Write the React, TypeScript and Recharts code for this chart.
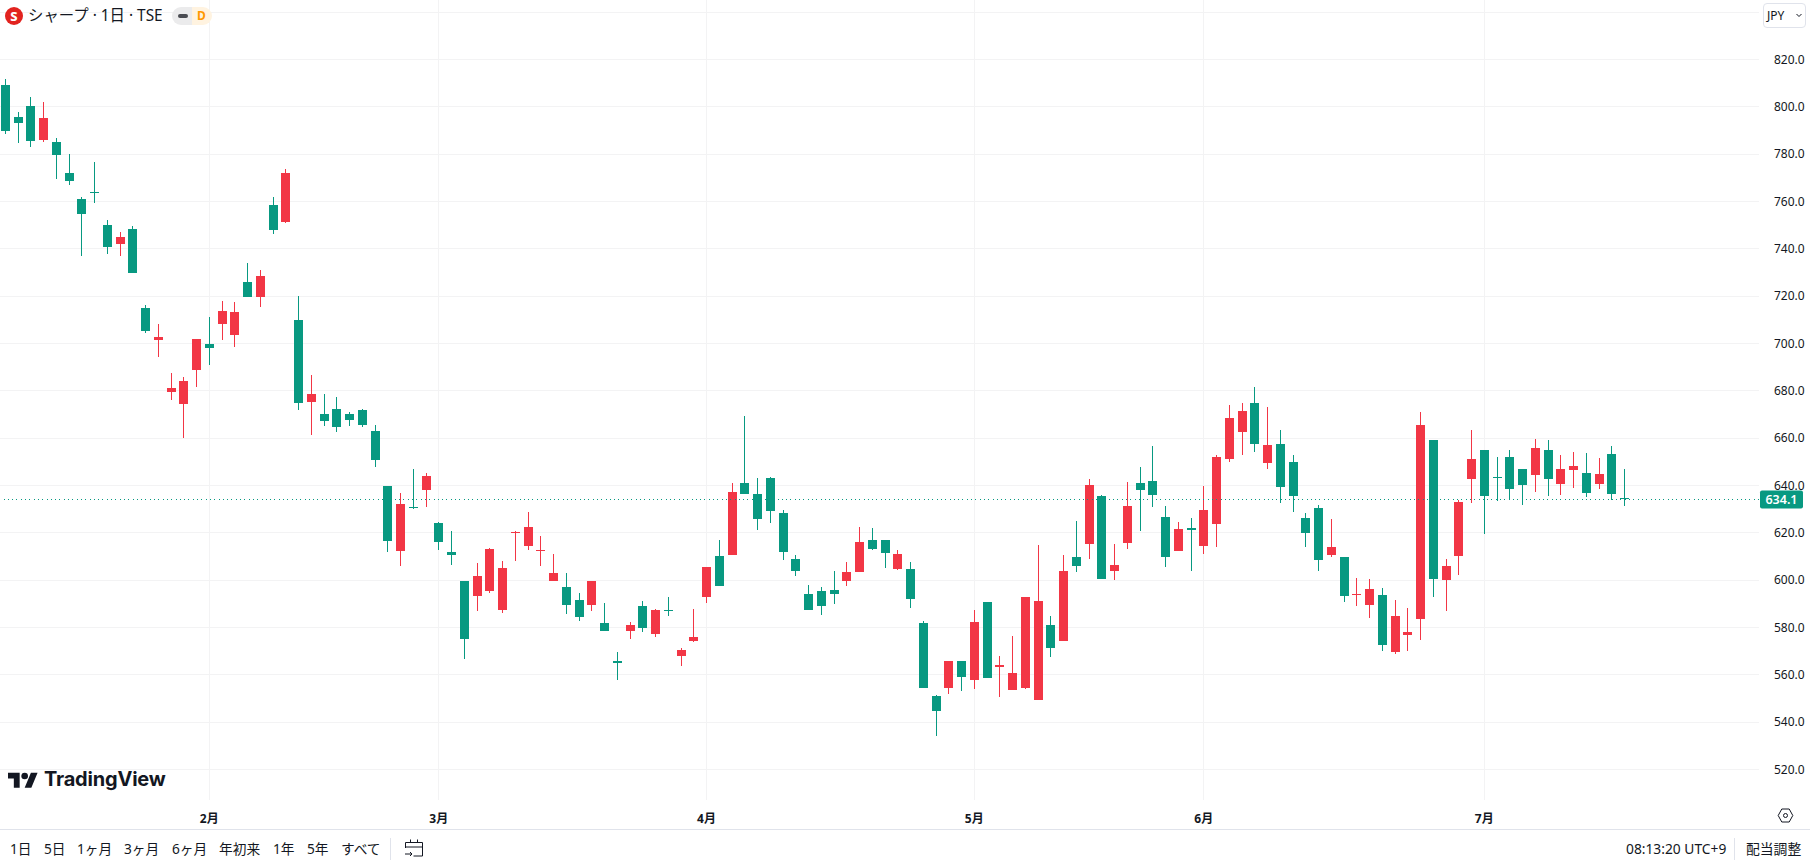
import { Bar, CartesianGrid, ComposedChart, ReferenceLine, XAxis, YAxis } from "recharts";

const opens = [
  809.2, 795.7, 800.4, 786, 785.1, 772, 761.1, 764.2, 750.1, 742, 748.4, 715, 701.5, 679.5, 674.4, 688.8,
  699.8, 708.2, 703.6, 726, 719.7, 758.5, 751.3, 710, 675.3, 670.2, 672.3, 670.2, 671.9, 663, 639.8, 612.3,
  631, 638.1, 624.2, 611.9, 599.6, 593.3, 595.4, 587.4, 619.9, 614.4, 612.3, 599.6, 597.1, 591.6, 589.5, 581.9,
  565.8, 578.5, 589.1, 577.3, 587.4, 567.9, 574.3, 592.9, 610.2, 610.6, 641, 636.4, 643.2, 628.4, 608.9, 594.2,
  595.4, 595.8, 599.6, 603.5, 617, 617, 604.7, 604.7, 581.9, 551, 554.4, 565.8, 557.8, 590.8, 563.3, 553.6,
  554.4, 549.4, 581, 574.3, 609.8, 615.3, 635.6, 603.9, 615.7, 641, 641.9, 626.7, 612.3, 622, 614.4, 623.7,
  651.2, 662.6, 674.9, 649.5, 657.5, 649.9, 626.3, 630.5, 610.6, 609.8, 593.7, 589.5, 593.7, 569.6, 576.8, 583.6,
  659.2, 600.1, 610.2, 642.7, 655, 643.6, 652, 647, 644.4, 655, 640.6, 646.5, 645.3, 640.6, 653.3, 634.7,
];
const highs = [
  811.6, 797.8, 804, 801.9, 786.8, 780.1, 761.9, 776.7, 752.2, 747.1, 749.6, 716.3, 708.2, 687.5, 685.8, 701.9,
  711.2, 718, 717.5, 734, 731, 761.9, 773.7, 720.1, 686.7, 678.7, 677.4, 671.1, 672.3, 665.6, 639.8, 636.8,
  647, 645.3, 624.6, 620.8, 599.6, 607.3, 613.6, 608.1, 620.8, 628.8, 618.7, 611, 603, 594.6, 599.6, 590.4,
  569.7, 582.3, 591.2, 587.8, 592.9, 571.3, 587.8, 605.6, 617, 641, 669.4, 643.2, 643.6, 629.6, 610.6, 598,
  597.1, 603.9, 607.7, 622.5, 622, 617, 612.8, 607.7, 582.7, 551.5, 565.8, 565.8, 587.4, 590.8, 567.9, 576.4,
  592.9, 614.9, 584.9, 610.6, 625, 642.7, 636, 615.3, 641.5, 647.8, 656.7, 631.3, 624.6, 626.3, 639.8, 652.9,
  674, 674.9, 681.6, 673.2, 663.4, 652.9, 628.4, 631.8, 625.8, 609.8, 600.9, 600.5, 596.7, 591.6, 588.2, 671,
  659.2, 608.9, 633.9, 663.4, 655, 652, 655, 647, 659.6, 659.2, 652.9, 654.2, 653.7, 651.6, 656.7, 647,
];
const lows = [
  788.5, 784.9, 783, 784.9, 769.5, 767, 737, 759.4, 737.8, 737, 729.8, 704.4, 694.3, 676.1, 660, 681.6,
  691, 701.5, 698.5, 719.7, 715.4, 746.3, 750.9, 672, 661.3, 665.2, 662.6, 665.2, 664.7, 647.8, 611.9, 606,
  630, 630.9, 612.8, 606.4, 566.7, 587, 594.6, 586.1, 608.1, 612.8, 606, 599.6, 585.7, 582.7, 587, 578.5,
  557.8, 575.1, 578.1, 576, 584.9, 563.7, 573.9, 590.4, 597.5, 610.6, 636.4, 621.2, 624.2, 608.5, 601.8, 587.4,
  585.3, 589.9, 597.5, 603.5, 612.8, 605.1, 604.3, 588.2, 554.4, 534.2, 551.9, 553.2, 554, 558.7, 550.6, 553.6,
  554, 549.4, 567.5, 574.3, 603.5, 608.9, 600.5, 600.1, 613.2, 620.8, 630.9, 605.6, 612.3, 603.9, 611, 614,
  650, 652.9, 654.2, 647, 632.6, 628.8, 614, 603.9, 609.8, 590.8, 589.1, 584, 570.1, 568.8, 570.1, 574.7,
  592.9, 587, 602.2, 632.6, 619.5, 633.4, 634.3, 631.8, 637.3, 635.6, 636, 639, 635.1, 638.5, 633.9, 631.3,
];
const closes = [
  789.8, 793.2, 785.6, 795.3, 779.6, 768.7, 754.7, 763.8, 740.8, 745, 729.8, 705.3, 702.7, 681.2, 684.2, 701.9,
  698.1, 713.7, 713.3, 719.7, 728.5, 748, 772, 674.9, 678.7, 667.3, 664.7, 667.7, 665.5, 650.8, 616.6, 632.2,
  630.5, 644, 616.1, 610.6, 575.1, 601.8, 613.2, 605.1, 620.4, 622.5, 612.8, 603, 589.5, 584.4, 599.6, 578.5,
  565, 581, 579.8, 587.4, 587, 570.5, 576, 605.6, 597.5, 637.3, 636.4, 625.8, 629.2, 611.9, 603.9, 587.4,
  589.1, 594.2, 603.5, 616.1, 613.2, 611.5, 611, 592, 554.4, 544.7, 565.8, 559.1, 582.3, 558.7, 564.2, 560.8,
  592.9, 591.2, 571.3, 603.9, 606, 640.2, 600.5, 606.4, 631.3, 638.1, 636, 609.8, 621.6, 621.2, 629.6, 652,
  668.5, 671.5, 657.5, 657.1, 639.4, 635.6, 619.9, 608.5, 614, 593.3, 594.2, 596.3, 572.6, 584.9, 578.1, 665.6,
  600.5, 606, 633, 651.2, 635.6, 643.2, 638.5, 640.2, 655.8, 642.7, 647, 648.2, 636.8, 644.9, 636.4, 634.1,
];

const priceTicks = [520, 540, 560, 580, 600, 620, 640, 660, 680, 700, 720, 740, 760, 780, 800, 820];
const gridPrices = [...priceTicks, 840];
const monthTicks = [16, 34, 55, 76, 94, 116];
const monthLabels = ["2月", "3月", "4月", "5月", "6月", "7月"];
const rangeButtons = ["1日", "5日", "1ヶ月", "3ヶ月", "6ヶ月", "年初来", "1年", "5年", "すべて"];
const rangeLefts = [10, 44, 77, 124, 172, 219, 273, 307, 341];
const lastPrice = 634.1;

const data = opens.map((open, i) => ({
  i,
  open,
  high: highs[i],
  low: lows[i],
  close: closes[i],
}));

const UP = "#f23645";
const DOWN = "#089981";
const FONT = "'Noto Sans', 'Noto Sans CJK JP', sans-serif";
const INK = "#131722";

// one bar per day, spanning low..high; the body is worked out from that span
function Candle(props: any) {
  const { x, y, width, height, payload } = props;
  const { open, high, low, close } = payload;
  const perUnit = height / (high - low);
  const top = Math.round(y + (high - Math.max(open, close)) * perUnit);
  const bottom = Math.round(y + (high - Math.min(open, close)) * perUnit);
  const color = close >= open ? UP : DOWN;
  const left = Math.round(x);
  return (
    <g>
      <rect x={left + 4} y={Math.round(y)} width={1} height={Math.max(1, Math.round(height))} fill={color} />
      <rect x={left} y={top} width={width} height={Math.max(1, bottom - top)} fill={color} />
    </g>
  );
}

function PriceTag({ viewBox }: any) {
  const cy = viewBox.y;
  return (
    <g>
      <rect x={1760} y={cy - 9} width={43} height={18} rx={2} fill={DOWN} />
      <text x={1781.5} y={cy + 4.5} textAnchor="middle" fill="#fff" fontSize={12.5} fontWeight={600} fontFamily={FONT}>
        {lastPrice.toFixed(1)}
      </text>
    </g>
  );
}

const abs = (left: number, top: number): React.CSSProperties => ({ position: "absolute", left, top, whiteSpace: "nowrap" });

export default function App() {
  return (
    <div style={{ position: "absolute", left: 0, top: 0, width: 1810, height: 864, background: "#fff", fontFamily: FONT, color: INK, overflow: "hidden" }}>
      <ComposedChart width={1810} height={864} data={data} margin={{ top: 0, right: 0, bottom: 0, left: 0 }}>
        <CartesianGrid stroke="#f3f3f4" shapeRendering="crispEdges" horizontalValues={gridPrices} verticalValues={monthTicks} />
        <XAxis
          dataKey="i"
          type="number"
          domain={[-0.4157, 137.55]}
          ticks={monthTicks}
          interval={0}
          height={64}
          axisLine={false}
          tickLine={false}
          tickMargin={8}
          tickFormatter={(v: number) => monthLabels[monthTicks.indexOf(v)]}
          tick={{ fill: INK, fontSize: 12, fontWeight: 700, fontFamily: FONT }}
        />
        <YAxis
          orientation="right"
          width={51}
          domain={[507.1, 845.14]}
          ticks={priceTicks}
          interval={0}
          axisLine={false}
          tickLine={false}
          tickMargin={9}
          tickFormatter={(v: number) => v.toFixed(1)}
          tick={{ fill: INK, fontSize: 12, fontFamily: FONT }}
        />
        <ReferenceLine y={lastPrice} stroke={DOWN} strokeDasharray="1 3.3" shapeRendering="crispEdges" label={PriceTag} />
        <Bar dataKey={(d: any) => [d.low, d.high]} barSize={9} shape={Candle} isAnimationActive={false} />
      </ComposedChart>

      {/* header */}
      <svg style={abs(5, 7)} width={18} height={18}>
        <circle cx={9} cy={9} r={9} fill="#e2231f" />
      </svg>
      <div style={{ ...abs(5, 7), width: 18, height: 18, lineHeight: "18px", textAlign: "center", color: "#fff", fontSize: 13, fontWeight: 800 }}>S</div>
      <div style={{ ...abs(28, 6), fontSize: 15.4, lineHeight: "20px" }}>シャープ · 1日 · TSE</div>
      <svg style={abs(172, 7)} width={40} height={18}>
        <path d="M9 0H20V18H9A9 9 0 0 1 9 0Z" fill="#ebebec" />
        <path d="M20 0H31A9 9 0 0 1 31 18H20Z" fill="#fff3e0" />
        <rect x={6} y={7} width={10} height={4} rx={2} fill="#4a4c52" />
      </svg>
      <div style={{ ...abs(197, 7), fontSize: 12, lineHeight: "18px", color: "#ff9800", fontWeight: 700 }}>D</div>

      {/* currency button */}
      <div style={{ ...abs(1763, 3), width: 43, height: 25, boxSizing: "border-box", border: "1px solid #e0e3eb", borderRadius: 4, background: "#fff", fontSize: 12, lineHeight: "23px", paddingLeft: 3 }}>JPY</div>
      <svg style={abs(1796, 13)} width={6} height={5}>
        <path d="M0.5 1L3 3.5L5.5 1" fill="none" stroke={INK} strokeWidth={1} />
      </svg>

      {/* TradingView mark */}
      <svg style={abs(8, 769)} width={30} height={24} viewBox="0 0 36 28">
        <path d="M14 22H7V11H0V4h14v18zM28 22h-8l7.5-18h8L28 22z" fill={INK} />
        <circle cx={20} cy={8} r={4} fill={INK} />
      </svg>
      <div style={{ ...abs(44, 766), fontFamily: "Inter, sans-serif", fontSize: 20, fontWeight: 700, lineHeight: "26px", letterSpacing: -0.2 }}>TradingView</div>

      {/* settings */}
      <svg style={abs(1777, 807)} width={17} height={17}>
        <path d="M4.8 2H12.2L15.8 8.5L12.2 15H4.8L1.2 8.5Z" fill="none" stroke={INK} strokeWidth={1} />
        <circle cx={8.5} cy={8.5} r={2} fill="none" stroke={INK} strokeWidth={1} />
      </svg>

      {/* bottom toolbar */}
      <div style={{ position: "absolute", left: 0, top: 829, width: 1810, height: 1, background: "#e0e3eb" }} />
      {rangeButtons.map((label, i) => (
        <div key={label} style={{ ...abs(rangeLefts[i], 840), fontSize: 13.7, lineHeight: "18px" }}>{label}</div>
      ))}
      <div style={{ position: "absolute", left: 390, top: 838, width: 1, height: 22, background: "#e0e3eb" }} />
      <svg style={abs(404, 838)} width={20} height={20}>
        <path d="M1.5 10V4.5H18.5V18H9.5M1.5 9H18.5M6.5 1.5V5M13.5 1.5V5M1 16H8M6 14L8 16L6 18" fill="none" stroke={INK} strokeWidth={1} />
      </svg>
      <div style={{ ...abs(1626, 840), fontSize: 13.8, lineHeight: "18px" }}>08:13:20 UTC+9</div>
      <div style={{ position: "absolute", left: 1734, top: 838, width: 1, height: 22, background: "#e0e3eb" }} />
      <div style={{ ...abs(1746, 840), fontSize: 13.8, lineHeight: "18px" }}>配当調整</div>
    </div>
  );
}
